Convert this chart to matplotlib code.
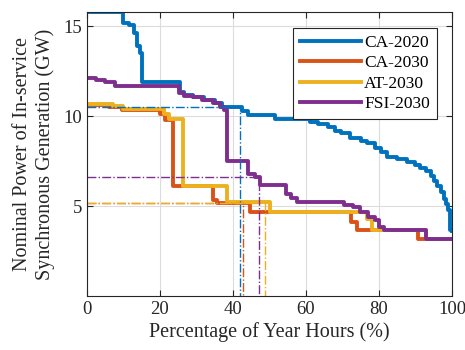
import matplotlib.pyplot as plt

# step curves: value holds from x[i] to x[i+1]
ca2020_x = [0, 9.8, 11.5, 12.8, 13.6, 14.4, 15.0, 25.5, 26.5, 29, 32, 35, 37, 42.5, 44, 51.5,
            61, 63.3, 66, 68, 69.5, 72, 75, 76.6, 79, 80.5, 82.1, 85, 87.6, 90, 91.2, 93,
            94.2, 95, 96, 97, 97.8, 98.3, 99, 99.5, 100]
ca2020_y = [15.8, 15.2, 15.05, 14.6, 13.9, 13.5, 11.9, 11.35, 11.2, 11.05, 10.9, 10.75, 10.5, 10.3, 10.05, 9.85,
            9.7, 9.55, 9.4, 9.2, 9.05, 8.8, 8.65, 8.5, 8.25, 8.0, 7.75, 7.6, 7.45, 7.3, 7.1, 6.95,
            6.7, 6.4, 6.1, 5.8, 5.4, 5.1, 4.8, 3.7, 3.6]

ca2030_x = [0, 6, 9.5, 20, 21.5, 23.7, 34.5, 35.5, 44.7, 72.4, 73.9, 90.7, 100]
ca2030_y = [10.65, 10.5, 10.35, 10.1, 9.8, 6.1, 5.35, 5.15, 4.68, 4.13, 3.67, 3.15, 3.15]

at2030_x = [0, 7.2, 9.9, 21, 22.5, 26.2, 38.3, 50.1, 76.6, 78, 93, 100]
at2030_y = [10.7, 10.55, 10.38, 10.1, 9.87, 6.13, 5.24, 4.68, 4.3, 3.67, 3.15, 3.15]

fsi2030_x = [0, 2.6, 5, 7.6, 25.2, 26.5, 29, 31.5, 34.5, 36.5, 37.5, 38.3, 44.2, 46, 47.4,
             54.4, 56, 57.5, 70.5, 73, 74.8, 77, 78.9, 80, 81.5, 93, 100]
fsi2030_y = [12.1, 12.0, 11.9, 11.7, 11.3, 11.15, 11.05, 10.9, 10.75, 10.5, 10.35, 7.5, 6.8, 6.63, 6.2,
             5.7, 5.45, 5.25, 5.06, 4.96, 4.68, 4.4, 4.22, 3.85, 3.67, 3.15, 3.15]

labels = ["CA-2020", "CA-2030", "AT-2030", "FSI-2030"]
colors = ["#0072BD", "#D95319", "#EDB120", "#7E2F8E"]

# dash-dot reference points (percentage, GW)
ref_x = [42.0, 42.7, 48.9, 47.1]
ref_y = [10.5, 5.2, 5.2, 6.63]

plt.rcParams["font.family"] = ["Liberation Serif", "DejaVu Serif"]

fig = plt.figure(figsize=(4.65, 3.5), dpi=100)
ax = fig.add_axes([0.187, 0.154, 0.785, 0.812])

series = [(ca2020_x, ca2020_y), (ca2030_x, ca2030_y), (at2030_x, at2030_y), (fsi2030_x, fsi2030_y)]
for (xs, ys), lab, c in zip(series, labels, colors):
    ax.plot(xs, ys, drawstyle="steps-post", color=c, lw=2.8, label=lab)

for rx, ry, c in zip(ref_x, ref_y, colors):
    ax.plot([0, rx, rx], [ry, ry, 0], color=c, lw=1.0, ls="-.")

ax.set_xlim(0, 100)
ax.set_ylim(0, 15.8)
ax.set_xticks(range(0, 101, 20))
ax.set_yticks([5, 10, 15])
ax.grid(True, color="#dcdcdc", lw=0.8)
ax.set_axisbelow(True)
ax.tick_params(direction="in", top=True, right=True, labelsize=13.5, colors="#262626", length=4)
for s in ax.spines.values():
    s.set_color("#262626")
    s.set_linewidth(0.8)

ax.set_xlabel("Percentage of Year Hours (%)", fontsize=14.5, color="#262626", labelpad=3)
ax.set_ylabel("Nominal Power of In-service\nSynchronous Generation (GW)", fontsize=14.5,
              color="#262626", linespacing=1.25, labelpad=6)

leg = ax.legend(loc="upper right", bbox_to_anchor=(0.959, 0.944), fontsize=12.5, fancybox=False,
                framealpha=1, edgecolor="#262626", handlelength=3.5, borderpad=0.4,
                labelspacing=0.25, handletextpad=0.2, borderaxespad=0)
leg.get_frame().set_linewidth(0.8)

fig.savefig("out.png", dpi=100)
